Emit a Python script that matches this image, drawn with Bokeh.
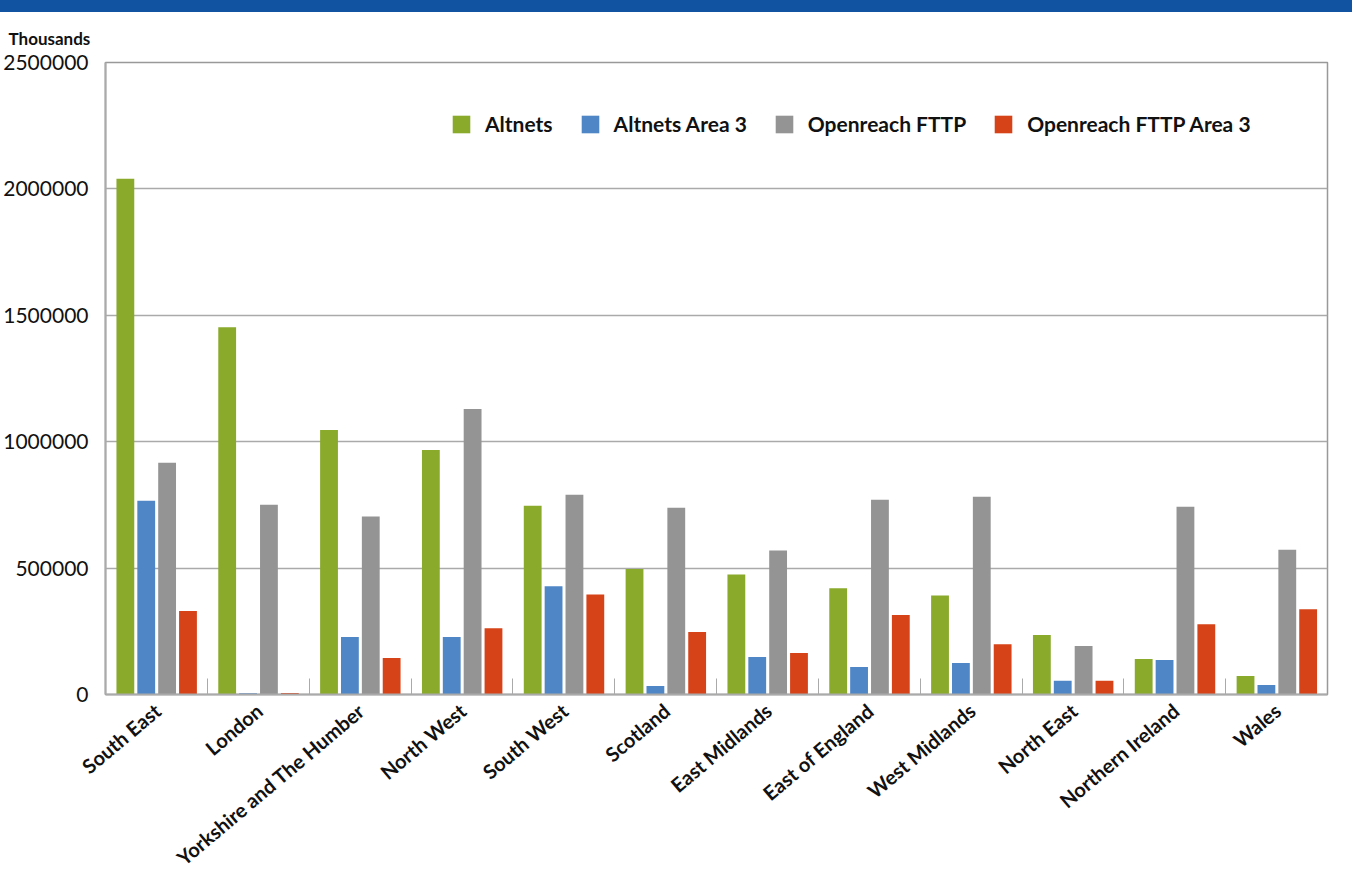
from bokeh.plotting import figure
from bokeh.models import ColumnDataSource, FixedTicker, Legend, LegendItem, Title, Div
from bokeh.layouts import column
from bokeh.embed import file_html
from bokeh.resources import INLINE

regions = ["South East", "London", "Yorkshire and The Humber", "North West", "South West",
           "Scotland", "East Midlands", "East of England", "West Midlands", "North East",
           "Northern Ireland", "Wales"]
altnets = [2040000, 1453000, 1046000, 967000, 747000, 496000, 475000, 420000, 392000, 235000, 140000, 73000]
altnets_area3 = [766000, 5000, 227000, 227000, 428000, 34000, 148000, 109000, 125000, 54000, 136000, 38000]
openreach_fttp = [917000, 751000, 704000, 1129000, 790000, 739000, 570000, 770000, 782000, 192000, 743000, 573000]
openreach_area3 = [330000, 6000, 144000, 262000, 396000, 247000, 164000, 314000, 199000, 54000, 278000, 337000]
series_names = ["Altnets", "Altnets Area 3", "Openreach FTTP", "Openreach FTTP Area 3"]
y_ticks = [0, 500000, 1000000, 1500000, 2000000, 2500000]

colors = ["#8aaa2c", "#4f87c6", "#949494", "#d64319"]
offsets = [-0.305, -0.10, 0.105, 0.31]
FONT = "Lato"

centers = [i + 0.5 for i in range(len(regions))]
label_pos = [i + 0.51 for i in range(len(regions))]

p = figure(width=1352, height=869, x_range=(0, len(regions)), y_range=(0, 2500000),
           output_backend="svg", toolbar_location=None,
           min_border_left=105, min_border_right=25, min_border_top=50, min_border_bottom=184)
p.title = Title(text="Thousands", align="left", offset=-97, standoff=27, text_font=FONT,
                text_font_size="17px", text_font_style="bold", text_color="#111111")

items = []
for vals, name, c, off in zip([altnets, altnets_area3, openreach_fttp, openreach_area3],
                              series_names, colors, offsets):
    src = ColumnDataSource(dict(x=[cx + off for cx in centers], top=vals))
    r = p.vbar(x="x", top="top", width=0.175, source=src, fill_color=c, line_color=None)
    items.append(LegendItem(label=name, renderers=[r]))

legend = Legend(items=items, orientation="horizontal", location=(345, 558),
                label_text_font=FONT, label_text_font_size="21px", label_text_font_style="bold",
                label_text_color="#111111", glyph_width=22, glyph_height=22,
                label_standoff=13, spacing=26, border_line_color=None,
                background_fill_alpha=0, padding=0, margin=0)
p.add_layout(legend, "center")

# x axis
p.xaxis.ticker = FixedTicker(ticks=label_pos, minor_ticks=list(range(1, len(regions))))
p.xaxis.major_label_overrides = {c: r for c, r in zip(label_pos, regions)}
p.xaxis.major_label_orientation = 0.7
p.xaxis.major_label_text_font = FONT
p.xaxis.major_label_text_font_size = "20px"
p.xaxis.major_label_text_font_style = "bold"
p.xaxis.major_label_text_color = "#111111"
p.xaxis.major_tick_line_color = None
p.xaxis.minor_tick_in = 16
p.xaxis.minor_tick_out = 0
p.xaxis.minor_tick_line_color = "#aaaaaa"
p.xaxis.axis_line_color = "#aaaaaa"
p.xaxis.axis_line_width = 2
p.xaxis.major_label_standoff = 7

# y axis
p.yaxis.ticker = FixedTicker(ticks=y_ticks)
p.yaxis.major_label_overrides = {t: str(t) for t in y_ticks}
p.yaxis.major_label_text_font = FONT
p.yaxis.major_label_text_font_size = "21px"
p.yaxis.major_label_text_color = "#111111"
p.yaxis.major_tick_line_color = None
p.yaxis.minor_tick_line_color = None
p.yaxis.axis_line_color = "#aaaaaa"
p.yaxis.axis_line_width = 2
p.yaxis.major_label_standoff = 11

p.xgrid.grid_line_color = None
p.ygrid.grid_line_color = "#aaaaaa"
p.ygrid.grid_line_width = 1.5
p.outline_line_color = "#999999"
p.outline_line_width = 1.5
p.background_fill_color = "white"

band = Div(text="", width=1352, height=12, margin=0,
           styles={"background-color": "#1153a0"})

layout = column(band, p, spacing=0)
open("out.html", "w").write(file_html(layout, INLINE))
